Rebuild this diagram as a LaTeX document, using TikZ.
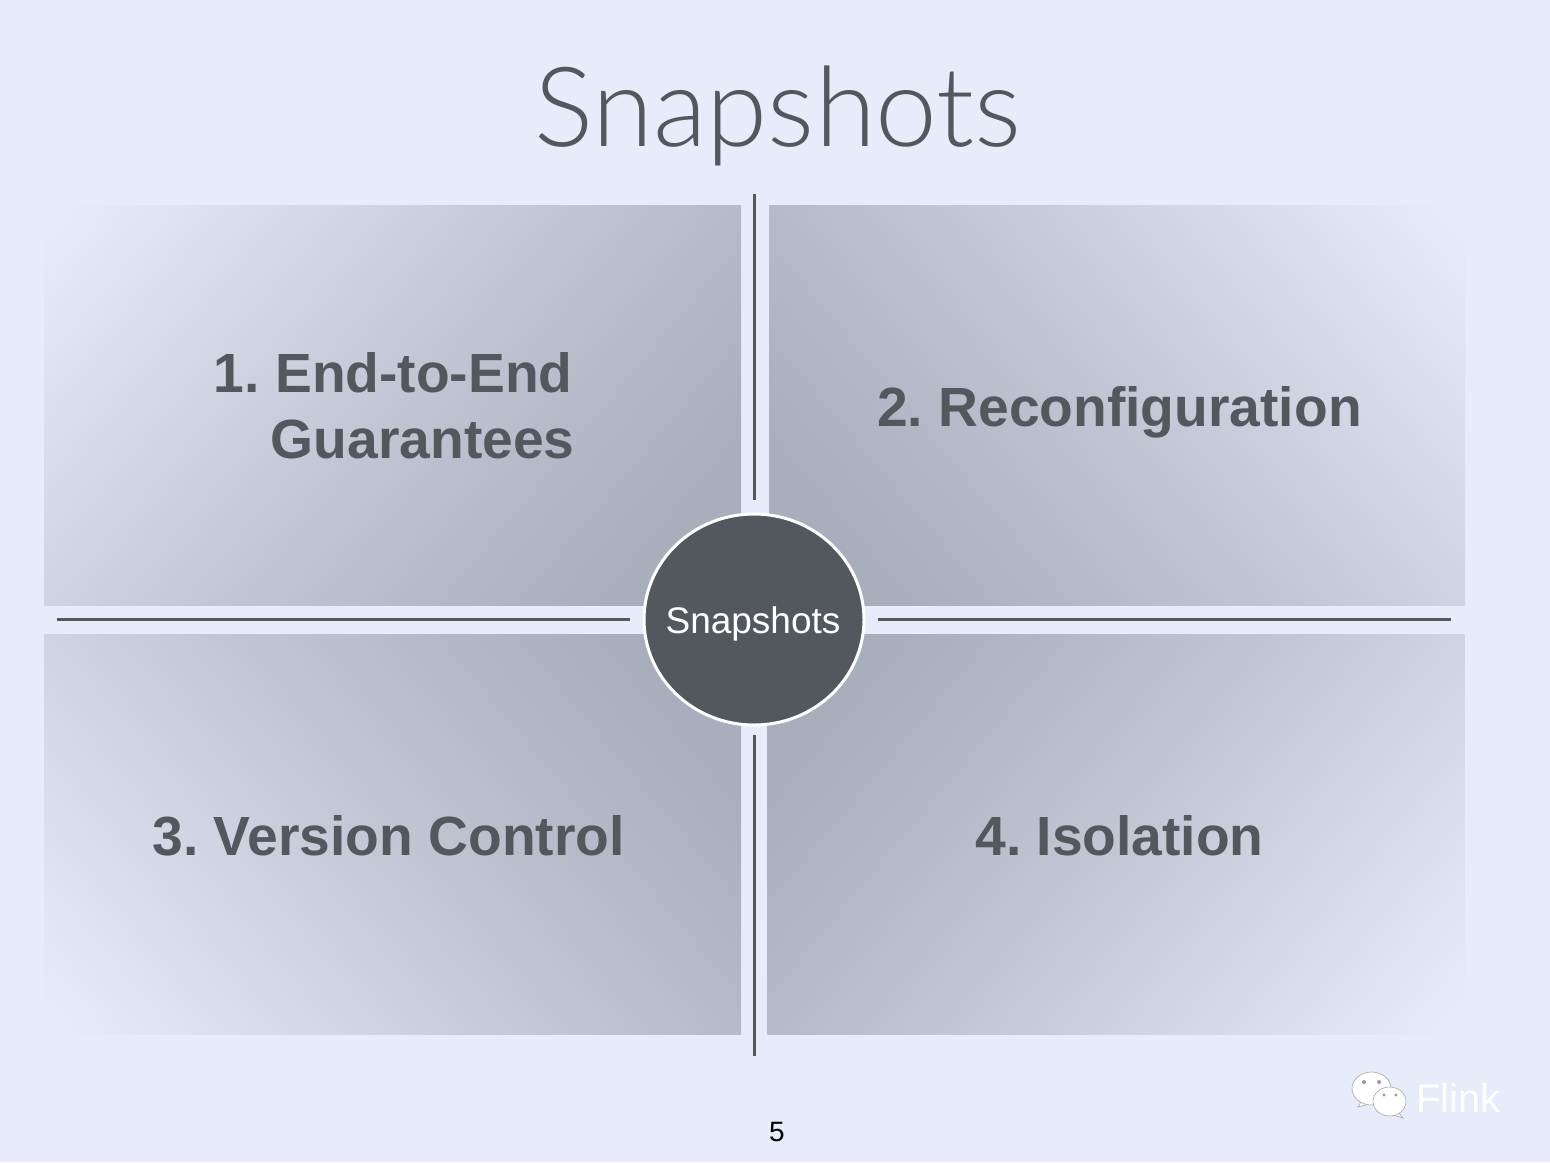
\documentclass[tikz,border=0pt]{standalone}
\usepackage{fontspec}
\setmainfont{Liberation Sans}
\newfontfamily\titlefont{Lato Light}
\usepackage{xcolor}
\usetikzlibrary{positioning,calc,shapes.geometric}
\definecolor{pagebg}{HTML}{E8EBFA}
\definecolor{panelfar}{HTML}{A8AEBC}
\definecolor{panelmid}{HTML}{C3C8D6}
\definecolor{slate}{HTML}{53575E}
\pgfdeclareverticalshading{panelramp}{100bp}{color(0bp)=(panelfar); color(24bp)=(panelfar);
  color(52bp)=(panelmid); color(84bp)=(pagebg); color(100bp)=(pagebg)}
\tikzset{
  panel/.style={rectangle,inner sep=0pt,minimum width=348.5pt,minimum height=200pt,shade,shading=panelramp},
  spoke/.style={draw=slate,line width=1.5pt},
  heading/.style={font=\bfseries\fontsize{27.6}{33}\selectfont,text=slate,inner sep=0pt,anchor=base},
  bubble/.style={fill=white,draw=black!35,line width=0.3pt},
}
\frenchspacing
\begin{document}
\begin{tikzpicture}[x=0.5pt,y=-0.5pt]
            \fill[pagebg] (0,0) rectangle (1550,1162);
            \useasboundingbox (0,0) rectangle (1550,1162);
            % title
            \node (title) [anchor=base,inner sep=0pt,text=slate,font=\titlefont\fontsize{55.4}{60}\selectfont] at (778,146) {Snapshots};
            % four panels
            \node (panelA) [panel,shading angle=50] at (392.5,405) {};
            \node (panelB) [panel,minimum width=348pt,shading angle=-50] at (1117,405) {};
            \node (panelC) [panel,shading angle=130] at (392.5,834.5) {};
            \node (panelD) [panel,shading angle=230] at (1116,834.5) {};
            % panel headings
            \node (labelA) [heading,anchor=base east] at (573,392) {1. End-to-End};
            \node (labelAb) [heading,anchor=base east] at (575,458) {Guarantees};
            \node (labelB) [heading] at (1119.5,426) {2. Reconfiguration};
            \node (labelC) [heading] at (388.5,855) {3. Version Control};
            \node (labelD) [heading] at (1119.5,855) {4. Isolation};
            % hub and spokes
            \node (hub) [ellipse,fill=slate,draw=white,line width=1.5pt,inner sep=0pt,minimum width=110pt,minimum height=105.5pt] at (754,619.5) {};
            \node (hublabel) [anchor=base,inner sep=0pt,text=white,font=\fontsize{18.5}{20}\selectfont] at (753,633) {Snapshots};
            \coordinate (topS) at (754,194);
            \coordinate (topE) at (754,500);
            \coordinate (botS) at (754,735);
            \coordinate (botE) at (754,1056);
            \coordinate (lftS) at (57,619);
            \coordinate (lftE) at (630,619);
            \coordinate (rgtS) at (878,619);
            \coordinate (rgtE) at (1451,619);
            \draw[spoke] (topS) -- (topE);
            \draw[spoke] (botS) -- (botE);
            \draw[spoke] (lftS) -- (lftE);
            \draw[spoke] (rgtS) -- (rgtE);
            % page number
            \node (pageno) [anchor=base,inner sep=0pt,font=\fontsize{14}{16}\selectfont] at (777,1141) {5};
            % chat mark
            \fill[bubble] (1362,1100) -- (1358,1107) -- (1372,1103) -- cycle;
            \draw[bubble] (1371.5,1088.5) ellipse (19.5 and 16.5);
            \fill[bubble] (1396,1110) -- (1403,1118) -- (1386,1113) -- cycle;
            \draw[bubble] (1389.5,1101.5) ellipse (16.5 and 14.5);
            \fill[black!40] (1364,1082) circle (2);
            \fill[black!40] (1379,1082) circle (2);
            \fill[black!40] (1384,1095) circle (1.6);
            \fill[black!40] (1396,1095) circle (1.6);
            \node (mark) [anchor=base west,inner sep=0pt,text=white,font=\fontsize{20}{20}\selectfont] at (1416,1112) {Flink};
          \end{tikzpicture}
\end{document}
